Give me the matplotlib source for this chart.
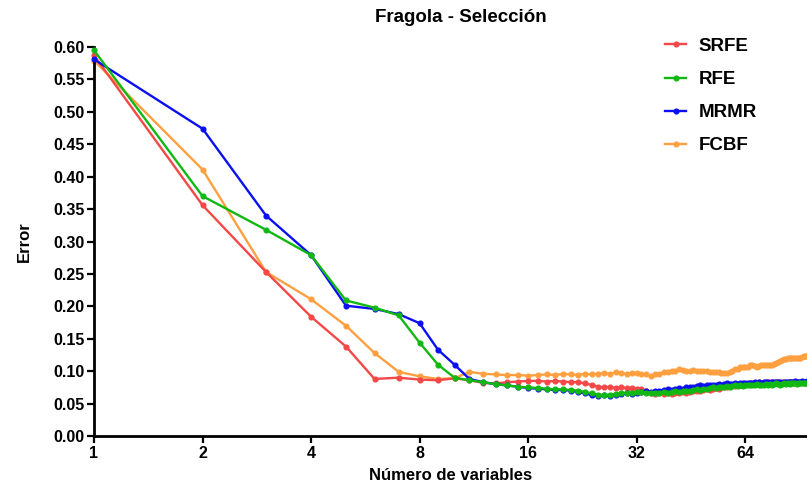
import matplotlib
matplotlib.use("Agg")
from matplotlib import pyplot as plt
from matplotlib.ticker import FixedLocator, FixedFormatter, NullLocator

# Fragola - error de clasificación según número de variables seleccionadas

n_vars = list(range(1, 97))

srfe = [0.587, 0.356, 0.253, 0.184, 0.138, 0.088, 0.090, 0.087, 0.086, 0.089,
        0.086, 0.082, 0.081, 0.083, 0.084, 0.085, 0.085, 0.084, 0.085, 0.084,
        0.083, 0.083, 0.081, 0.079, 0.076, 0.075, 0.076, 0.074, 0.075, 0.074,
        0.074, 0.073, 0.073, 0.070, 0.066, 0.065, 0.066, 0.065, 0.066, 0.065,
        0.067, 0.066, 0.068, 0.067, 0.068, 0.069, 0.070, 0.069, 0.071, 0.072,
        0.071, 0.073, 0.074, 0.073, 0.075, 0.076, 0.075, 0.077, 0.078, 0.077,
        0.079, 0.078, 0.080, 0.079, 0.080, 0.081, 0.080, 0.082, 0.081, 0.083,
        0.082, 0.081, 0.083, 0.082, 0.084, 0.083, 0.082, 0.084, 0.083, 0.082,
        0.084, 0.083, 0.082, 0.083, 0.084, 0.083, 0.082, 0.084, 0.083, 0.082,
        0.083, 0.084, 0.083, 0.082, 0.083, 0.083]

rfe = [0.595, 0.370, 0.318, 0.279, 0.209, 0.198, 0.186, 0.144, 0.110, 0.090,
       0.086, 0.083, 0.080, 0.078, 0.076, 0.075, 0.074, 0.073, 0.072, 0.072,
       0.071, 0.070, 0.068, 0.066, 0.064, 0.063, 0.064, 0.065, 0.066, 0.067,
       0.067, 0.068, 0.068, 0.067, 0.067, 0.066, 0.067, 0.068, 0.067, 0.068,
       0.069, 0.068, 0.069, 0.070, 0.070, 0.071, 0.072, 0.071, 0.073, 0.073,
       0.074, 0.075, 0.074, 0.076, 0.075, 0.076, 0.077, 0.076, 0.077, 0.078,
       0.077, 0.078, 0.077, 0.078, 0.079, 0.078, 0.078, 0.079, 0.080, 0.079,
       0.078, 0.079, 0.080, 0.079, 0.080, 0.079, 0.080, 0.081, 0.080, 0.079,
       0.080, 0.081, 0.080, 0.081, 0.080, 0.081, 0.082, 0.081, 0.080, 0.081,
       0.082, 0.081, 0.082, 0.081, 0.082, 0.082]

mrmr = [0.581, 0.474, 0.340, 0.279, 0.201, 0.196, 0.188, 0.174, 0.133, 0.110,
        0.088, 0.083, 0.080, 0.078, 0.076, 0.074, 0.073, 0.072, 0.071, 0.071,
        0.070, 0.068, 0.066, 0.063, 0.062, 0.063, 0.062, 0.064, 0.065, 0.066,
        0.065, 0.067, 0.068, 0.069, 0.068, 0.069, 0.070, 0.071, 0.072, 0.071,
        0.073, 0.074, 0.073, 0.075, 0.076, 0.075, 0.077, 0.078, 0.077, 0.078,
        0.079, 0.078, 0.079, 0.080, 0.079, 0.080, 0.081, 0.080, 0.080, 0.081,
        0.080, 0.081, 0.082, 0.081, 0.082, 0.081, 0.082, 0.083, 0.082, 0.083,
        0.082, 0.083, 0.084, 0.083, 0.082, 0.083, 0.084, 0.083, 0.084, 0.083,
        0.082, 0.083, 0.084, 0.083, 0.084, 0.083, 0.084, 0.085, 0.084, 0.083,
        0.084, 0.085, 0.084, 0.084, 0.085, 0.085]

fcbf = [0.579, 0.411, 0.253, 0.211, 0.170, 0.128, 0.099, 0.092, 0.088, 0.089,
        0.099, 0.096, 0.095, 0.094, 0.094, 0.093, 0.094, 0.095, 0.094, 0.096,
        0.095, 0.094, 0.096, 0.095, 0.096, 0.097, 0.096, 0.098, 0.097, 0.096,
        0.097, 0.097, 0.096, 0.095, 0.092, 0.095, 0.096, 0.098, 0.099, 0.100,
        0.101, 0.103, 0.102, 0.101, 0.101, 0.102, 0.101, 0.101, 0.100, 0.100,
        0.099, 0.099, 0.098, 0.098, 0.097, 0.097, 0.097, 0.098, 0.101, 0.103,
        0.104, 0.106, 0.107, 0.107, 0.106, 0.109, 0.110, 0.108, 0.107, 0.108,
        0.109, 0.110, 0.109, 0.109, 0.110, 0.110, 0.111, 0.112, 0.114, 0.115,
        0.117, 0.118, 0.119, 0.120, 0.121, 0.121, 0.120, 0.121, 0.121, 0.120,
        0.121, 0.122, 0.123, 0.124, 0.124, 0.124]

x_ticks = [1, 2, 4, 8, 16, 32, 64]
y_ticks = [i * 0.05 for i in range(13)]

plt.rcParams['font.family'] = ['Liberation Sans', 'DejaVu Sans']
plt.rcParams['font.weight'] = 'bold'

fig = plt.figure(figsize=(8.07, 4.84), dpi=100, facecolor='w')
ax = fig.add_axes([94 / 807, 48 / 484, 1 - 94 / 807, 389 / 484])

series = [("SRFE", srfe, '#f44848', 3),
          ("RFE", rfe, '#12b812', 5),
          ("MRMR", mrmr, '#0a10f2', 4),
          ("FCBF", fcbf, '#ffa040', 2)]
for name, vals, col, z in series:
    ax.plot(n_vars, vals, label=name, color=col, lw=1.7, marker='o',
            markersize=3.4, zorder=z, clip_on=False)

ax.set_xscale('log', base=2)
ax.set_xlim(1, 95)
ax.set_ylim(0, 0.6)
ax.xaxis.set_major_locator(FixedLocator(x_ticks))
ax.xaxis.set_major_formatter(FixedFormatter([str(t) for t in x_ticks]))
ax.xaxis.set_minor_locator(NullLocator())
ax.set_yticks(y_ticks)
ax.set_yticklabels(["%.2f" % t for t in y_ticks])

for s in ['top', 'right']:
    ax.spines[s].set_visible(False)
for s in ['left', 'bottom']:
    ax.spines[s].set_linewidth(2)
ax.tick_params(width=1.6, length=5, labelsize=11.5, direction='out', pad=2)

ax.set_xlabel("Número de variables", fontsize=12, fontweight='bold', labelpad=5)
ax.set_ylabel("Error", fontsize=12, fontweight='bold', labelpad=15)
fig.text(461 / 807, 1 - 18 / 484, "Fragola - Selección", ha='center', va='center',
         fontsize=13.5, fontweight='bold')

ax.legend(loc='upper left', bbox_to_anchor=(648 / 807, 1 - 21 / 484),
          bbox_transform=fig.transFigure, frameon=False,
          handlelength=1.15, labelspacing=0.85, handletextpad=0.65,
          prop={'weight': 'bold', 'size': 13.5})

plt.savefig('out.png', dpi=100)
